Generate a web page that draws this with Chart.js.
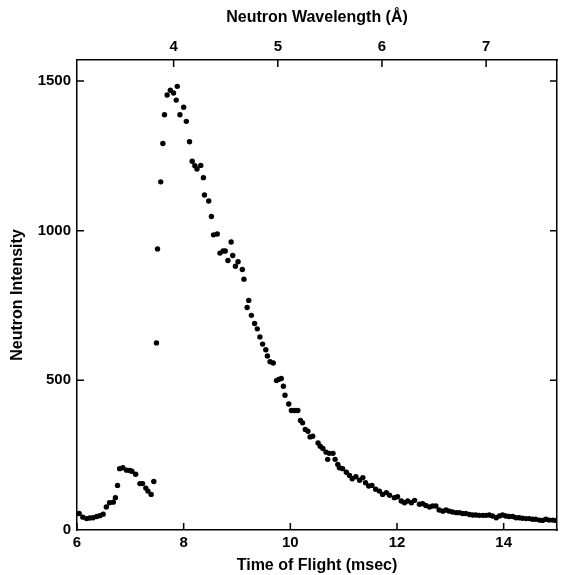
<!DOCTYPE html>
<html lang="en">
<head>
  <meta charset="UTF-8" />
  <title>Neutron Intensity vs Time of Flight</title>
  <script src="https://cdn.jsdelivr.net/npm/chart.js"></script>
  <style>
    body { margin: 0; background: #fff; }
    #wrap { width: 561px; height: 575px; }
  </style>
</head>
<body>
  <div id="wrap">
    <canvas id="tofChart" width="561" height="575"></canvas>
  </div>

  <script>
    // time of flight (msec)
    const timeOfFlight = [
      6.04, 6.11, 6.18, 6.24, 6.30, 6.37, 6.43, 6.49, 6.55, 6.61, 6.68, 6.72, 6.76, 6.80, 6.86, 6.93, 6.99, 7.03, 7.10,
      7.18, 7.23, 7.29, 7.33, 7.39, 7.44, 7.49, 7.51, 7.57, 7.61, 7.64, 7.69, 7.75, 7.81, 7.86, 7.88, 7.93, 8.00, 8.05,
      8.11, 8.16, 8.21, 8.25, 8.32, 8.37, 8.39, 8.47, 8.52, 8.56, 8.63, 8.68, 8.74, 8.78, 8.83, 8.89, 8.92, 8.97, 9.02,
      9.10, 9.13, 9.19, 9.22, 9.27, 9.33, 9.38, 9.43, 9.48, 9.54, 9.57, 9.62, 9.68, 9.74, 9.78, 9.83, 9.87, 9.90, 9.97,
      10.02, 10.08, 10.14, 10.19, 10.23, 10.28, 10.33, 10.37, 10.42, 10.52, 10.56, 10.61, 10.67, 10.70, 10.73, 10.80,
      10.84, 10.89, 10.92, 10.98, 11.05, 11.11, 11.16, 11.23, 11.30, 11.36, 11.41, 11.47, 11.53, 11.60, 11.67, 11.73,
      11.80, 11.86, 11.95, 12.01, 12.08, 12.14, 12.20, 12.27, 12.33, 12.42, 12.48, 12.54, 12.61, 12.67, 12.73, 12.79,
      12.86, 12.92, 12.98, 13.04, 13.11, 13.17, 13.23, 13.29, 13.36, 13.42, 13.48, 13.54, 13.61, 13.67, 13.73, 13.79,
      13.86, 13.92, 13.98, 14.04, 14.10, 14.17, 14.23, 14.29, 14.35, 14.42, 14.48, 14.54, 14.60, 14.67, 14.73, 14.79,
      14.85, 14.92, 14.98
    ];

    // neutron intensity, same order
    const intensity = [
      55, 43, 38, 40, 41, 45, 48, 53, 77, 91, 93, 108, 149, 205, 208, 200, 199, 196, 186,
      155, 155, 140, 130, 119, 162, 625, 939, 1163, 1291, 1387, 1453, 1469, 1460, 1436, 1482, 1387, 1412, 1365,
      1297, 1232, 1217, 1206, 1218, 1177, 1119, 1099, 1047, 986, 989, 925, 932, 932, 900, 962, 917, 881, 896,
      870, 838, 743, 767, 717, 690, 672, 645, 621, 602, 581, 562, 558, 499, 503, 506, 480, 450, 421,
      399, 399, 399, 366, 358, 336, 330, 311, 313, 291, 280, 272, 260, 236, 256, 256,
      236, 219, 208, 205, 193, 182, 171, 178, 166, 175, 158, 147, 149, 136, 130, 119,
      125, 116, 108, 111, 97, 91, 97, 91, 99, 86, 88, 82, 77, 80, 80, 67,
      63, 67, 63, 60, 58, 58, 55, 55, 52, 50, 50, 49, 49, 49, 50, 47,
      41, 47, 50, 47, 45, 45, 41, 41, 39, 38, 38, 36, 36, 33, 32, 36,
      33, 33, 32
    ];

    const tofTicks = [6, 8, 10, 12, 14];
    const wavelengthTicks = [4, 5, 6, 7];
    const intensityTicks = [0, 500, 1000, 1500];
    const msecPerAngstrom = 1.953; // time of flight per Å on this instrument

    const tofMin = 6, tofMax = 15;
    const yMin = 0, yMax = 1570;

    const tickFont = { family: 'Liberation Sans', weight: 'bold', size: 15 };
    const titleFont = { family: 'Liberation Sans', weight: 'bold', size: 16 };
    const ink = '#000';
    const plain = v => String(v);

    // ticks of this plot point into the frame
    const inwardTicks = {
      id: 'inwardTicks',
      afterDraw(chart) {
        const { ctx, chartArea: a, scales } = chart;
        const len = 7;
        ctx.save();
        ctx.strokeStyle = ink;
        ctx.lineWidth = 1.5;
        ctx.beginPath();
        scales.x.ticks.forEach(t => {
          const px = scales.x.getPixelForValue(t.value);
          ctx.moveTo(px, a.bottom); ctx.lineTo(px, a.bottom - len);
        });
        scales.x2.ticks.forEach(t => {
          const px = scales.x2.getPixelForValue(t.value);
          ctx.moveTo(px, a.top); ctx.lineTo(px, a.top + len);
        });
        scales.y.ticks.forEach(t => {
          if (t.value === 0) return;
          const py = scales.y.getPixelForValue(t.value);
          ctx.moveTo(a.left, py); ctx.lineTo(a.left + len, py);
          ctx.moveTo(a.right, py); ctx.lineTo(a.right - len, py);
        });
        ctx.stroke();
        ctx.restore();
      }
    };

    const noGrid = { display: false, drawTicks: false };
    const frame = { display: true, color: ink, width: 1.5 };

    new Chart(document.getElementById('tofChart'), {
      type: 'scatter',
      data: {
        datasets: [{
          label: 'Neutron Intensity',
          data: timeOfFlight.map((t, i) => ({ x: t, y: intensity[i] })),
          backgroundColor: ink,
          borderWidth: 0,
          pointRadius: 2.7,
          showLine: false
        }]
      },
      options: {
        responsive: false,
        animation: false,
        layout: { padding: 0 },
        plugins: { legend: { display: false }, tooltip: { enabled: false } },
        scales: {
          x: {
            type: 'linear', position: 'bottom', min: tofMin, max: tofMax,
            afterBuildTicks: s => { s.ticks = tofTicks.map(v => ({ value: v })); },
            afterFit: s => { s.height = 45; },
            grid: noGrid, border: frame,
            ticks: { font: tickFont, color: ink, padding: 4, maxRotation: 0, callback: plain },
            title: { display: true, text: 'Time of Flight (msec)', font: titleFont, color: ink, padding: 0 }
          },
          x2: {
            type: 'linear', position: 'top',
            min: tofMin / msecPerAngstrom, max: tofMax / msecPerAngstrom,
            afterBuildTicks: s => { s.ticks = wavelengthTicks.map(v => ({ value: v })); },
            afterFit: s => { s.height = 60; },
            grid: noGrid, border: frame,
            ticks: { font: tickFont, color: ink, padding: 4, maxRotation: 0, callback: plain },
            title: { display: true, text: 'Neutron Wavelength (Å)', font: titleFont, color: ink, padding: { top: 8, bottom: 0 } }
          },
          y: {
            type: 'linear', position: 'left', min: yMin, max: yMax,
            afterBuildTicks: s => { s.ticks = intensityTicks.map(v => ({ value: v })); },
            afterFit: s => { s.width = 77; },
            grid: noGrid, border: frame,
            ticks: { font: tickFont, color: ink, padding: 6, callback: plain },
            title: { display: true, text: 'Neutron Intensity', font: titleFont, color: ink, padding: { top: 8, bottom: 0 } }
          },
          y2: {
            type: 'linear', position: 'right', min: yMin, max: yMax,
            afterFit: s => { s.width = 3; },
            grid: noGrid, border: frame,
            ticks: { display: false }
          }
        }
      },
      plugins: [inwardTicks]
    });
  </script>
</body>
</html>
